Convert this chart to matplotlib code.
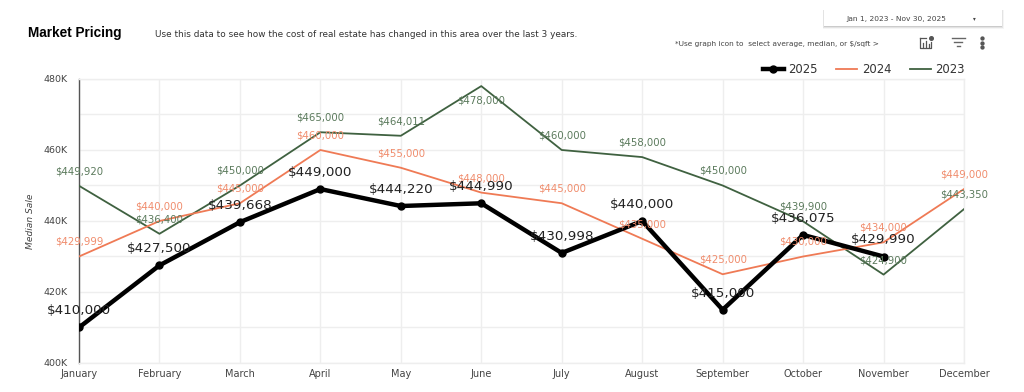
import matplotlib
matplotlib.use("Agg")
import matplotlib.pyplot as plt
from matplotlib.patches import Rectangle

months = ["January", "February", "March", "April", "May", "June", "July",
          "August", "September", "October", "November", "December"]
sales_2025 = [410000, 427500, 439668, 449000, 444220, 444990, 430998, 440000, 415000, 436075, 429990]
sales_2024 = [429999, 440000, 445000, 460000, 455000, 448000, 445000, 435000, 425000, 430000, 434000, 449000]
sales_2023 = [449920, 436400, 450000, 465000, 464011, 478000, 460000, 458000, 450000, 439900, 424900, 443350]
y_ticks = [400000, 420000, 440000, 460000, 480000]
y_tick_labels = ["400K", "420K", "440K", "460K", "480K"]

BLACK = "#000000"
ORANGE = "#ef7a55"
GREEN = "#3f6140"
GRID = "#eeeeee"
TEXT = "#444444"

plt.rcParams["font.family"] = ["DejaVu Sans"]

fig = plt.figure(figsize=(10.24, 3.92), dpi=100)
ax = fig.add_axes([79 / 1024, 1 - 363 / 392, (964 - 79) / 1024, (363 - 79) / 392])

x = list(range(len(months)))
ax.plot(x, sales_2023, color=GREEN, linewidth=1.3, label="2023", zorder=3)
ax.plot(x, sales_2024, color=ORANGE, linewidth=1.3, label="2024", zorder=4)
ax.plot(x[:len(sales_2025)], sales_2025, color=BLACK, linewidth=3.2, marker="o", markersize=5,
        label="2025", zorder=5)

# value labels above each point, below it when there is no room at the top
def add_labels(values, color, size, offset):
    for i, v in enumerate(values):
        off = -offset if v > 475000 else offset
        ax.annotate(f"${v:,}", (i, v), xytext=(0, off), textcoords="offset points",
                    ha="center", va="center", color=color, fontsize=size, zorder=6,
                    annotation_clip=False)

add_labels(sales_2023, "#5b7a5c", 7.3, 10.5)
add_labels(sales_2024, "#f08c6c", 7.3, 10.5)
add_labels(sales_2025, "#222222", 9.7, 12)

ax.set_xlim(0, 11)
ax.set_ylim(400000, 480000)
ax.set_xticks(x)
ax.set_xticklabels(months, fontsize=7.0, color=TEXT)
ax.set_yticks(y_ticks)
ax.set_yticklabels(y_tick_labels, fontsize=6.8, color=TEXT)
ax.set_yticks(range(410000, 480000, 20000), minor=True)
ax.tick_params(axis="both", which="both", length=0)
ax.tick_params(axis="x", pad=4)
ax.tick_params(axis="y", pad=8)
ax.grid(True, which="major", color=GRID, linewidth=1.0)
ax.grid(True, which="minor", axis="y", color=GRID, linewidth=1.0)
ax.set_axisbelow(True)
for side in ["top", "right", "bottom"]:
    ax.spines[side].set_color(GRID)
    ax.spines[side].set_linewidth(1.0)
ax.spines["left"].set_color("#555555")
ax.spines["left"].set_linewidth(1.0)
ax.set_ylabel("Median Sale", fontsize=6.6, color=TEXT, style="italic", labelpad=6)

handles, labels = ax.get_legend_handles_labels()
ax.legend(handles[::-1], labels[::-1], ncol=3, frameon=False, fontsize=8.4,
          loc="lower right", bbox_to_anchor=(1.001, 1.012), handlelength=1.8,
          columnspacing=1.6, handletextpad=0.38, labelcolor="#333333", borderpad=0, borderaxespad=0)

# page furniture, in pixel coordinates
over = fig.add_axes([0, 0, 1, 1])
over.set_xlim(0, 1024)
over.set_ylim(392, 0)
over.axis("off")
over.patch.set_alpha(0)

over.text(28, 33, "Market Pricing", fontsize=9.8, fontweight="bold", color="black", va="center",
          family=["Liberation Sans Narrow", "Liberation Sans"])
over.text(155, 34.5, "Use this data to see how the cost of real estate has changed in this area over the last 3 years.",
          fontsize=6.4, color="#333333", va="center")
over.text(675, 44, "*Use graph icon to  select average, median, or $/sqft >", fontsize=5.35,
          color="#444444", va="center")

# date range box with a soft shadow
for grow, alpha in [(1.5, 0.04), (0.8, 0.07), (0.3, 0.1)]:
    over.add_patch(Rectangle((824 - grow, 10 - grow + 1), 178 + 2 * grow, 16 + 2 * grow,
                             facecolor="black", alpha=alpha, linewidth=0))
over.add_patch(Rectangle((824, 10), 178, 16, facecolor="white", linewidth=0))
over.text(896, 18.5, "Jan 1, 2023 - Nov 30, 2025", fontsize=5.4, color="#444444", ha="center", va="center")
over.text(974, 18.5, "\u25be", fontsize=4, color="#444444", ha="center", va="center")

# chart icon
over.plot([920, 920, 931, 931], [38, 48, 48, 42], color="#555555", linewidth=0.9)
over.plot([920, 926], [38, 38], color="#555555", linewidth=0.9)
for bx, top in [(923, 43), (926, 41), (929, 44)]:
    over.plot([bx, bx], [46.5, top], color="#555555", linewidth=0.9)
over.plot([931], [38], marker="o", markersize=2.6, color="#555555")
# filter icon
for half, yy in [(6.5, 38), (4, 42), (1.5, 46)]:
    over.plot([958 - half, 958 + half], [yy, yy], color="#666666", linewidth=1.0)
# kebab menu
over.plot([982, 982, 982], [38, 42.5, 47], linestyle="none", marker="o", markersize=2.1, color="#555555")

fig.savefig("out.png", dpi=100)
